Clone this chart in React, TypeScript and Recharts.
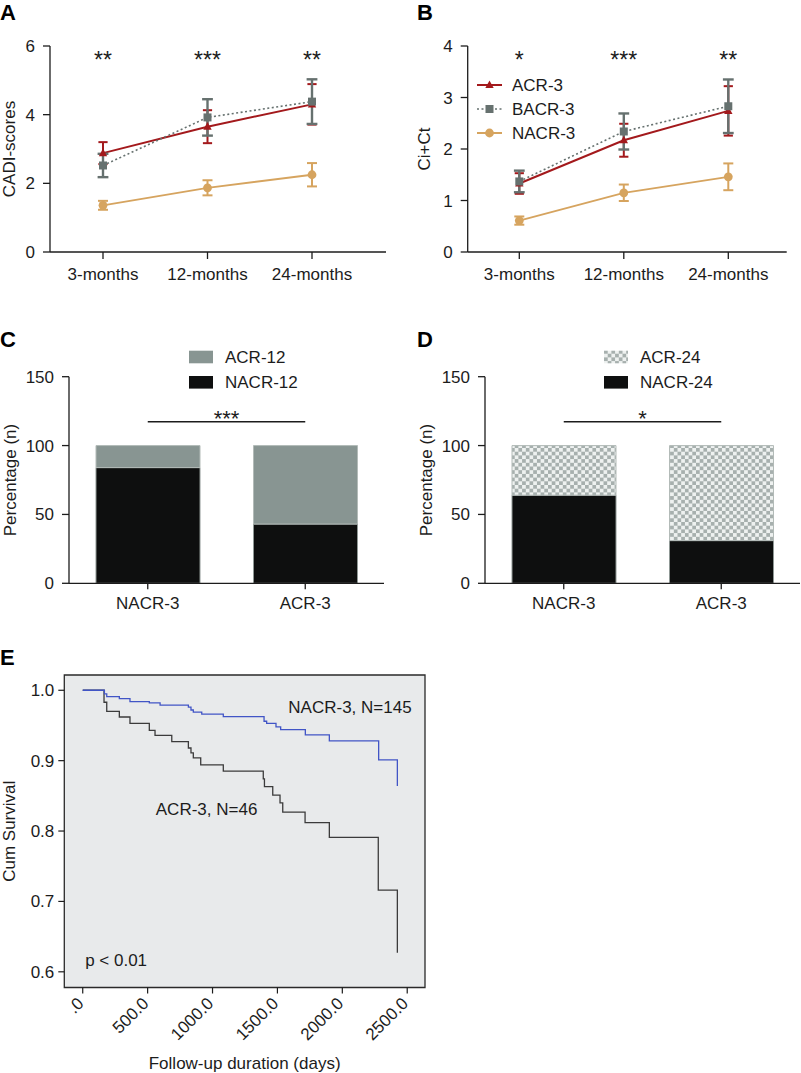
import {
  LineChart, Line, XAxis, YAxis, ErrorBar, ReferenceDot, Legend,
  BarChart, Bar, ReferenceLine, CartesianGrid, ReferenceArea,
} from 'recharts';

const FONT = '"Liberation Sans", Arial, Helvetica, sans-serif';
const INK = '#1c1c1c';
const RED = '#a3191c';
const GREY = '#66716f';
const TAN = '#d6a45f';
const BLACK_BAR = '#0e0f0f';
const GREY_BAR = '#889592';

// ---- A / B: follow-up scores ----
const months = ['3-months', '12-months', '24-months'];

const cadiAcr = [2.88, 3.65, 4.3];
const cadiAcrSem = [0.32, 0.48, 0.59];
const cadiBacr = [2.52, 3.92, 4.38];
const cadiBacrSem = [0.34, 0.53, 0.65];
const cadiNacr = [1.36, 1.87, 2.25];
const cadiNacrSem = [0.13, 0.22, 0.34];
const cadiStars = ['**', '***', '**'];

const ciAcr = [1.33, 2.17, 2.74];
const ciAcrSem = [0.2, 0.32, 0.48];
const ciBacr = [1.37, 2.34, 2.83];
const ciBacrSem = [0.21, 0.35, 0.52];
const ciNacr = [0.61, 1.15, 1.46];
const ciNacrSem = [0.08, 0.16, 0.26];
const ciStars = ['*', '***', '**'];

// ---- C / D: stacked percentages ----
const groups = ['NACR-3', 'ACR-3'];
const nacr12 = [84, 43];
const acr12 = [16, 57];
const nacr24 = [64, 31];
const acr24 = [36, 69];

// ---- E: Kaplan-Meier ----
const nacrDays = [0, 167, 185, 282, 364, 513, 596, 814, 834, 852, 917, 1083, 1397, 1417, 1489, 1525, 1715, 1900, 2280, 2424];
const nacrSurv = [1, 0.995, 0.991, 0.988, 0.984, 0.982, 0.979, 0.976, 0.972, 0.969, 0.966, 0.9625, 0.956, 0.953, 0.948, 0.944, 0.9365, 0.928, 0.901, 0.864];
const acrDays = [0, 164, 185, 282, 364, 513, 557, 686, 814, 834, 852, 909, 1083, 1391, 1400, 1464, 1520, 1541, 1713, 1900, 2277, 2424];
const acrSurv = [1, 0.983, 0.97, 0.962, 0.953, 0.943, 0.936, 0.927, 0.918, 0.911, 0.904, 0.894, 0.885, 0.874, 0.863, 0.851, 0.84, 0.827, 0.812, 0.791, 0.716, 0.627];
const dayTicks = [0, 500, 1000, 1500, 2000, 2500];
const survTicks = [0.6, 0.7, 0.8, 0.9, 1.0];

const buildTrend = (acr: number[], acrSem: number[], bacr: number[], bacrSem: number[],
  nacr: number[], nacrSem: number[], stars: string[]) =>
  months.map((m, i) => ({
    month: m, acr: acr[i], acrSem: acrSem[i], bacr: bacr[i], bacrSem: bacrSem[i],
    nacr: nacr[i], nacrSem: nacrSem[i], star: stars[i],
  }));

// markers
const TriDot = (p: any) => {
  if (p.cx == null) return <g key={p.key} />;
  return <path key={p.key} d={`M${p.cx},${p.cy - 4.6}L${p.cx + 4.2},${p.cy + 3.1}L${p.cx - 4.2},${p.cy + 3.1}Z`} fill={RED} />;
};
const SquareDot = (p: any) => {
  if (p.cx == null) return <g key={p.key} />;
  return <rect key={p.key} x={p.cx - 4} y={p.cy - 4} width={8} height={8} fill={GREY} />;
};
const CircleDot = (p: any) => {
  if (p.cx == null) return <g key={p.key} />;
  return <circle key={p.key} cx={p.cx} cy={p.cy} r={4.4} fill={TAN} />;
};

// rotated axis title, centred on the axis box
const yTitle = (text: string, cx: number) => (props: any) => {
  const vb = props.viewBox;
  const cy = vb.y + vb.height / 2;
  return (
    <text x={cx} y={cy} transform={`rotate(-90, ${cx}, ${cy})`} textAnchor="middle"
      dominantBaseline="central" fontSize={17} fill={INK}>{text}</text>
  );
};

// asterisks: glyph sits high in the em box, so push baseline down
const starLabel = (text: string, size = 23) => (props: any) => {
  const vb = props.viewBox;
  const x = vb.x + (vb.width || 0) / 2;
  const y = vb.y + (vb.height || 0) / 2;
  return <text x={x} y={y + size * 0.58} textAnchor="middle" fontSize={size} fill={INK}>{text}</text>;
};

const trendLegend = [
  { name: 'ACR-3', color: RED, dash: undefined as string | undefined, marker: 'tri' },
  { name: 'BACR-3', color: GREY, dash: '2 2.5', marker: 'sq' },
  { name: 'NACR-3', color: TAN, dash: undefined as string | undefined, marker: 'circ' },
];

const TrendLegendContent = () => (
  <svg width={130} height={74} style={{ display: 'block', overflow: 'visible' }}>
    {trendLegend.map((it, i) => {
      const y = 12 + i * 24;
      const mx = 12.5;
      return (
        <g key={it.name}>
          <line x1={0} x2={25} y1={y} y2={y} stroke={it.color} strokeWidth={it.dash ? 1.6 : 2} strokeDasharray={it.dash} />
          {it.marker === 'tri' && <path d={`M${mx},${y - 4.6}L${mx + 4.2},${y + 3.1}L${mx - 4.2},${y + 3.1}Z`} fill={RED} />}
          {it.marker === 'sq' && <rect x={mx - 4} y={y - 4} width={8} height={8} fill={GREY} />}
          {it.marker === 'circ' && <circle cx={mx} cy={y} r={4.4} fill={TAN} />}
          <text x={35} y={y} dy="0.36em" fontSize={17} fill={INK}>{it.name}</text>
        </g>
      );
    })}
  </svg>
);

type TrendProps = {
  data: ReturnType<typeof buildTrend>;
  yMax: number;
  yTicks: number[];
  yLabel: string;
  titleX: number;
  starY: number;
  yAxisWidth: number;
  marginRight: number;
  padding: { left: number; right: number };
  legend?: boolean;
};

function TrendPanel({ data, yMax, yTicks, yLabel, titleX, starY, yAxisWidth, marginRight, padding, legend }: TrendProps) {
  return (
    <LineChart width={400} height={300} data={data} margin={{ top: 46, right: marginRight, bottom: 8, left: 0 }}>
      <XAxis dataKey="month" scale="point" padding={padding} height={40} tickSize={7} tickMargin={9}
        stroke={INK} axisLine={{ strokeWidth: 1.3 }} tickLine={{ strokeWidth: 1.3 }}
        tick={{ fill: INK, fontSize: 17 }} interval={0} />
      <YAxis domain={[0, yMax]} ticks={yTicks} width={yAxisWidth} tickSize={7} tickMargin={8}
        stroke={INK} axisLine={{ strokeWidth: 1.3 }} tickLine={{ strokeWidth: 1.3 }}
        tick={{ fill: INK, fontSize: 17 }} label={{ content: yTitle(yLabel, titleX) }} />
      <Line dataKey="nacr" stroke={TAN} strokeWidth={1.8} dot={CircleDot} isAnimationActive={false}>
        <ErrorBar dataKey="nacrSem" width={5} stroke={TAN} strokeWidth={2} direction="y" />
      </Line>
      <Line dataKey="acr" stroke={RED} strokeWidth={2} dot={TriDot} isAnimationActive={false}>
        <ErrorBar dataKey="acrSem" width={4.6} stroke={RED} strokeWidth={2} direction="y" />
      </Line>
      <Line dataKey="bacr" stroke={GREY} strokeWidth={1.6} strokeDasharray="2 2.5" dot={SquareDot} isAnimationActive={false}>
        <ErrorBar dataKey="bacrSem" width={5.4} stroke={GREY} strokeWidth={2.4} direction="y" />
      </Line>
      {data.map((d) => (
        <ReferenceDot key={d.month} x={d.month} y={starY} r={0} fill="none" stroke="none"
          label={{ content: starLabel(d.star) }} />
      ))}
      {legend && (
        <Legend layout="vertical" align="center" verticalAlign="middle"
          wrapperStyle={{ left: 77, top: 73, width: 130 }} content={TrendLegendContent} />
      )}
    </LineChart>
  );
}

type StackProps = {
  low: number[];
  high: number[];
  lowName: string;
  highName: string;
  highFill: string;
  star: string;
  yAxisWidth: number;
  marginRight: number;
  titleX: number;
  legendLeft: number;
};

function StackPanel({ low, high, lowName, highName, highFill, star, yAxisWidth, marginRight, titleX, legendLeft }: StackProps) {
  const rows = groups.map((g, i) => ({ group: g, low: low[i], high: high[i] }));
  const LegendContent = () => (
    <svg width={150} height={44} style={{ display: 'block', overflow: 'visible' }}>
      <rect x={0} y={0.7} width={24} height={12.6} fill={highFill} />
      <text x={36} y={7} dy="0.36em" fontSize={17} fill={INK}>{highName}</text>
      <rect x={0} y={26} width={24} height={12.6} fill={BLACK_BAR} />
      <text x={36} y={32.3} dy="0.36em" fontSize={17} fill={INK}>{lowName}</text>
    </svg>
  );
  return (
    <BarChart width={400} height={330} data={rows} barSize={104}
      margin={{ top: 76.7, right: marginRight, bottom: 6.7, left: 0 }}>
      <defs>
        <pattern id="checker" width={7.4} height={7.4} patternUnits="userSpaceOnUse">
          <rect width={7.4} height={7.4} fill="#eef1f0" />
          <rect width={3.7} height={3.7} fill="#a7b0ae" />
          <rect x={3.7} y={3.7} width={3.7} height={3.7} fill="#a7b0ae" />
        </pattern>
      </defs>
      <XAxis dataKey="group" height={40} tickSize={6} tickMargin={8} stroke={INK}
        axisLine={{ strokeWidth: 1.3 }} tickLine={{ strokeWidth: 1.3 }} tick={{ fill: INK, fontSize: 17 }} />
      <YAxis domain={[0, 150]} ticks={[0, 50, 100, 150]} width={yAxisWidth} tickSize={7} tickMargin={8}
        stroke={INK} axisLine={{ strokeWidth: 1.3 }} tickLine={{ strokeWidth: 1.3 }}
        tick={{ fill: INK, fontSize: 17 }} label={{ content: yTitle('Percentage (n)', titleX) }} />
      <Bar dataKey="low" stackId="s" fill={BLACK_BAR} stroke="#8f9895" strokeWidth={1} isAnimationActive={false} />
      <Bar dataKey="high" stackId="s" fill={highFill} stroke="#b3bbb8" strokeWidth={1} isAnimationActive={false} />
      <ReferenceLine segment={[{ x: groups[0], y: 117.3 }, { x: groups[1], y: 117.3 }]} stroke={INK} strokeWidth={1.3}
        label={{ content: (p: any) => starLabel(star, 22)({ viewBox: { x: p.viewBox.x, y: p.viewBox.y - 8.5, width: p.viewBox.width, height: 0 } }) }} />
      <Legend layout="vertical" align="center" verticalAlign="middle"
        wrapperStyle={{ left: legendLeft, top: 50, width: 150 }} content={LegendContent} />
    </BarChart>
  );
}

const DayTick = (p: any) => {
  const { x, y, payload } = p;
  const v = payload.value as number;
  const s = v === 0 ? '.0' : v.toFixed(1);
  const ax = x + 2;
  const ay = y + 9;
  return (
    <text x={ax} y={ay} transform={`rotate(-45, ${ax}, ${ay})`} textAnchor="end" fontSize={17} fill={INK}>{s}</text>
  );
};

const kmNotes = [
  { text: 'NACR-3, N=145', day: 2059, s: 0.9767 },
  { text: 'ACR-3, N=46', day: 954, s: 0.831 },
  { text: 'p < 0.01', day: 257, s: 0.617 },
];

function SurvivalPanel() {
  const nacrCurve = nacrDays.map((d, i) => ({ day: d, s: nacrSurv[i] }));
  const acrCurve = acrDays.map((d, i) => ({ day: d, s: acrSurv[i] }));
  const xDom: [number, number] = [-142, 2637];
  const yDom: [number, number] = [0.5777, 1.0217];
  return (
    <LineChart width={440} height={433} margin={{ top: 35, right: 15, bottom: 0.5, left: 0 }}>
      <CartesianGrid horizontal={false} vertical={false} fill="#e8eaeb" />
      <XAxis type="number" dataKey="day" domain={xDom} ticks={dayTicks} allowDataOverflow height={85}
        tickSize={6} stroke={INK} axisLine={false} tickLine={{ strokeWidth: 1.2 }} tick={DayTick}
        label={{
          content: (p: any) => {
            const vb = p.viewBox;
            return <text x={vb.x + vb.width / 2} y={vb.y + vb.height - 4} textAnchor="middle" fontSize={17} fill={INK}>Follow-up duration (days)</text>;
          },
        }} />
      <YAxis type="number" domain={yDom} ticks={survTicks} allowDataOverflow width={64.3} tickSize={6} tickMargin={4}
        stroke={INK} axisLine={false} tickLine={{ strokeWidth: 1.2 }} tick={{ fill: INK, fontSize: 17 }}
        tickFormatter={(v: number) => v.toFixed(1)} label={{ content: yTitle('Cum Survival', 9.5) }} />
      <ReferenceArea x1={xDom[0]} x2={xDom[1]} y1={yDom[0]} y2={yDom[1]} fill="none" fillOpacity={0}
        stroke="#2a2a2a" strokeWidth={1.3} ifOverflow="visible" />
      <Line data={acrCurve} dataKey="s" type="stepAfter" stroke="#3b3b3b" strokeWidth={1.3} dot={false} isAnimationActive={false} />
      <Line data={nacrCurve} dataKey="s" type="stepAfter" stroke="#4155c6" strokeWidth={1.3} dot={false} isAnimationActive={false} />
      {kmNotes.map((n) => (
        <ReferenceDot key={n.text} x={n.day} y={n.s} r={0} fill="none" stroke="none"
          label={{ value: n.text, position: 'center', fill: INK, fontSize: 17 }} />
      ))}
    </LineChart>
  );
}

const PanelLetter = ({ ch, x, y }: { ch: string; x: number; y: number }) => (
  <div style={{ position: 'absolute', left: x, top: y, fontSize: 22, lineHeight: '22px', fontWeight: 700, color: '#000' }}>{ch}</div>
);

export default function App() {
  const dataA = buildTrend(cadiAcr, cadiAcrSem, cadiBacr, cadiBacrSem, cadiNacr, cadiNacrSem, cadiStars);
  const dataB = buildTrend(ciAcr, ciAcrSem, ciBacr, ciBacrSem, ciNacr, ciNacrSem, ciStars);
  return (
    <div style={{ position: 'absolute', left: 0, top: 0, width: 801, height: 1073, background: '#fff', fontFamily: FONT, color: INK, overflow: 'hidden' }}>
      <div style={{ position: 'absolute', left: 0, top: 0 }}>
        <TrendPanel data={dataA} yMax={6} yTicks={[0, 2, 4, 6]} yLabel="CADI-scores" titleX={9.7} starY={5.74}
          yAxisWidth={50} marginRight={14} padding={{ left: 53, right: 74 }} />
      </div>
      <div style={{ position: 'absolute', left: 400, top: 0 }}>
        <TrendPanel data={dataB} yMax={4} yTicks={[0, 1, 2, 3, 4]} yLabel="Ci+Ct" titleX={24} starY={3.83}
          yAxisWidth={67.7} marginRight={13.3} padding={{ left: 51.6, right: 58.4 }} legend />
      </div>
      <div style={{ position: 'absolute', left: 0, top: 300 }}>
        <StackPanel low={nacr12} high={acr12} lowName="NACR-12" highName="ACR-12" highFill={GREY_BAR} star="***"
          yAxisWidth={69} marginRight={16} titleX={10} legendLeft={189} />
      </div>
      <div style={{ position: 'absolute', left: 400, top: 300 }}>
        <StackPanel low={nacr24} high={acr24} lowName="NACR-24" highName="ACR-24" highFill="url(#checker)" star="*"
          yAxisWidth={85} marginRight={0} titleX={26.7} legendLeft={204} />
      </div>
      <div style={{ position: 'absolute', left: 0, top: 640 }}>
        <SurvivalPanel />
      </div>
      <PanelLetter ch="A" x={0} y={2} />
      <PanelLetter ch="B" x={417} y={2} />
      <PanelLetter ch="C" x={0} y={329} />
      <PanelLetter ch="D" x={417} y={329} />
      <PanelLetter ch="E" x={0} y={647} />
    </div>
  );
}
